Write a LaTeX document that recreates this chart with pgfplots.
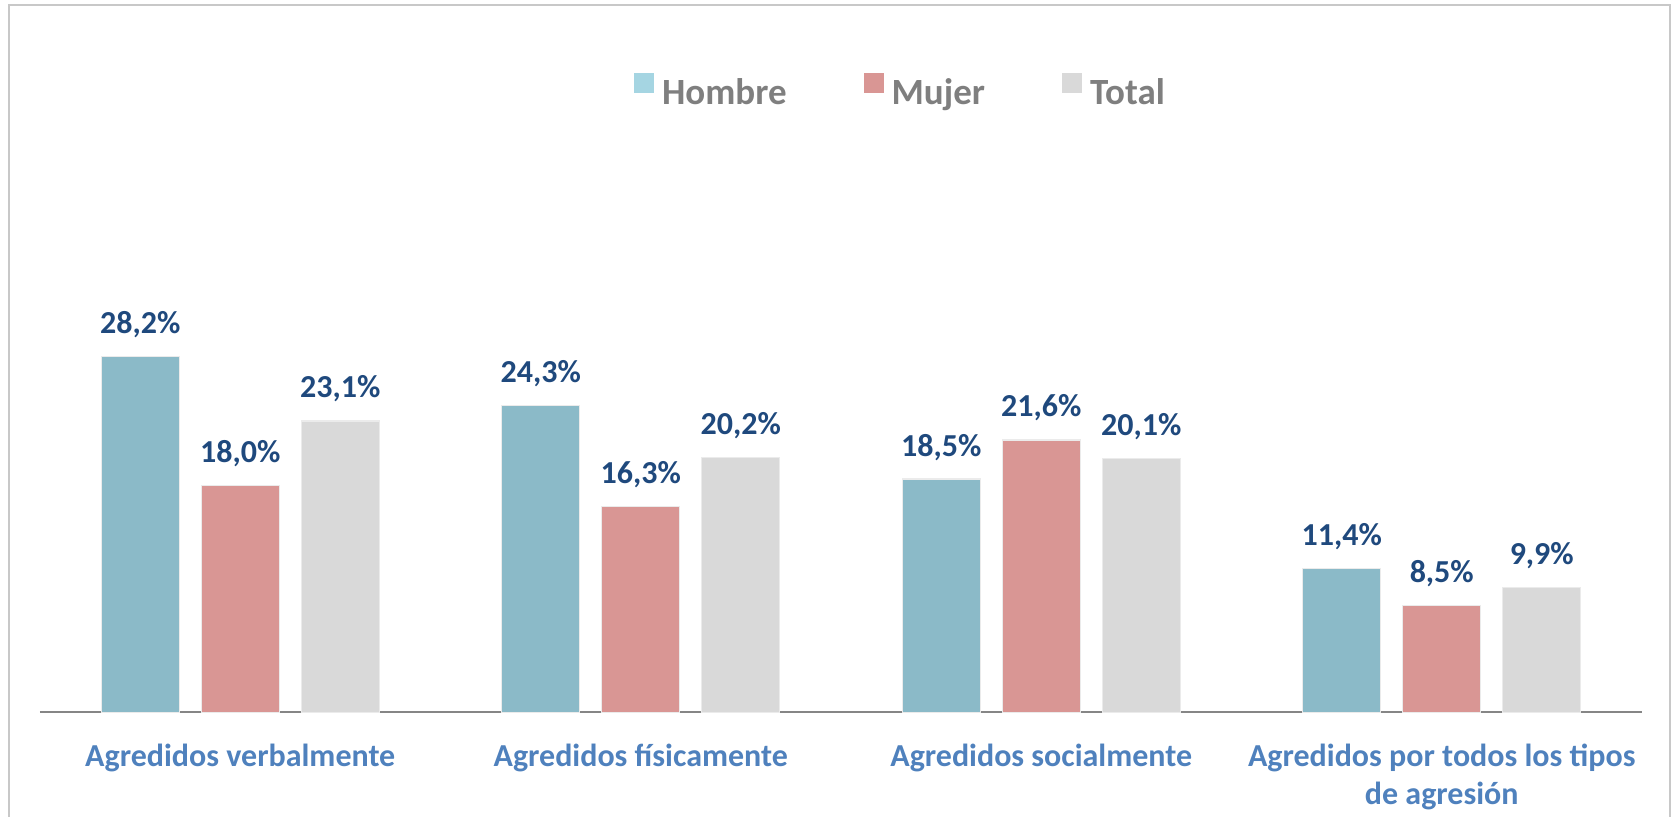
\documentclass[border=0pt]{standalone}
\usepackage{fontspec}
\setmainfont{Carlito}
\usepackage{pgfplots}
\pgfplotsset{compat=1.18}

\definecolor{hombre}{RGB}{139,186,200}
\definecolor{hombreleg}{RGB}{165,213,226}
\definecolor{mujer}{RGB}{217,150,148}
\definecolor{total}{RGB}{217,217,217}
\definecolor{valblue}{RGB}{31,73,125}
\definecolor{catblue}{RGB}{79,129,189}
\definecolor{leggray}{RGB}{127,127,127}
\definecolor{framegray}{RGB}{200,200,200}
\definecolor{axisgray}{RGB}{134,134,134}

\begin{document}
\begin{tikzpicture}
\path[use as bounding box, clip] (0,0) rectangle (837pt,408.5pt);
% chart frame, open at the bottom
\draw[framegray, line width=1pt] (4.5pt,-10pt) -- (4.5pt,406pt) -- (835pt,406pt) -- (835pt,-10pt);
\begin{axis}[
    at={(20pt,52.25pt)}, anchor=south west,
    scale only axis, width=801pt, height=290.25pt,
    xmin=-0.5, xmax=3.5, ymin=0, ymax=46,
    ybar, bar width=39pt,
    clip=false,
    axis y line=none, axis x line*=bottom,
    axis line style={axisgray, line width=1pt, -},
    xtick={0,1,2,3}, major tick length=0pt,
    xticklabels={Agredidos verbalmente, Agredidos físicamente, Agredidos socialmente,
        {\begin{tabular}[t]{@{}c@{}}Agredidos por todos los tipos\\de agresión\end{tabular}}},
    xticklabel style={font=\fontsize{16}{19}\selectfont\bfseries, text=catblue, anchor=base, yshift=-27pt},
    nodes near coords={\pgfmathprintnumber[fixed,fixed zerofill,precision=1,use comma,assume math mode=true]{\pgfplotspointmeta}\%},
    nodes near coords style={font=\fontsize{16}{19}\selectfont\bfseries, text=valblue, anchor=base, yshift=11.5pt},
    legend columns=3,
    legend style={at={(0.539,1.068)}, anchor=center, draw=none, fill=none,
        font=\fontsize{18.5}{22}\selectfont\bfseries, text=leggray,
        nodes={inner xsep=4pt},
        /tikz/every odd column/.append style={column sep=0pt},
        /tikz/every even column/.append style={column sep=34.5pt}},
    legend image code/.code={\fill[#1,draw=none] (0pt,0pt) rectangle (10pt,10pt);},
]
\addplot[fill=hombre, draw=black!8, line width=0.6pt, bar shift=-50pt, legend image post style={fill=hombreleg}]
    coordinates {(0,28.2) (1,24.3) (2,18.5) (3,11.4)};
\addplot[fill=mujer, draw=black!8, line width=0.6pt, bar shift=0pt]
    coordinates {(0,18.0) (1,16.3) (2,21.6) (3,8.5)};
\addplot[fill=total, draw=black!8, line width=0.6pt, bar shift=50pt]
    coordinates {(0,23.1) (1,20.2) (2,20.1) (3,9.9)};
\legend{Hombre, Mujer, Total}
\end{axis}
\end{tikzpicture}
\end{document}
